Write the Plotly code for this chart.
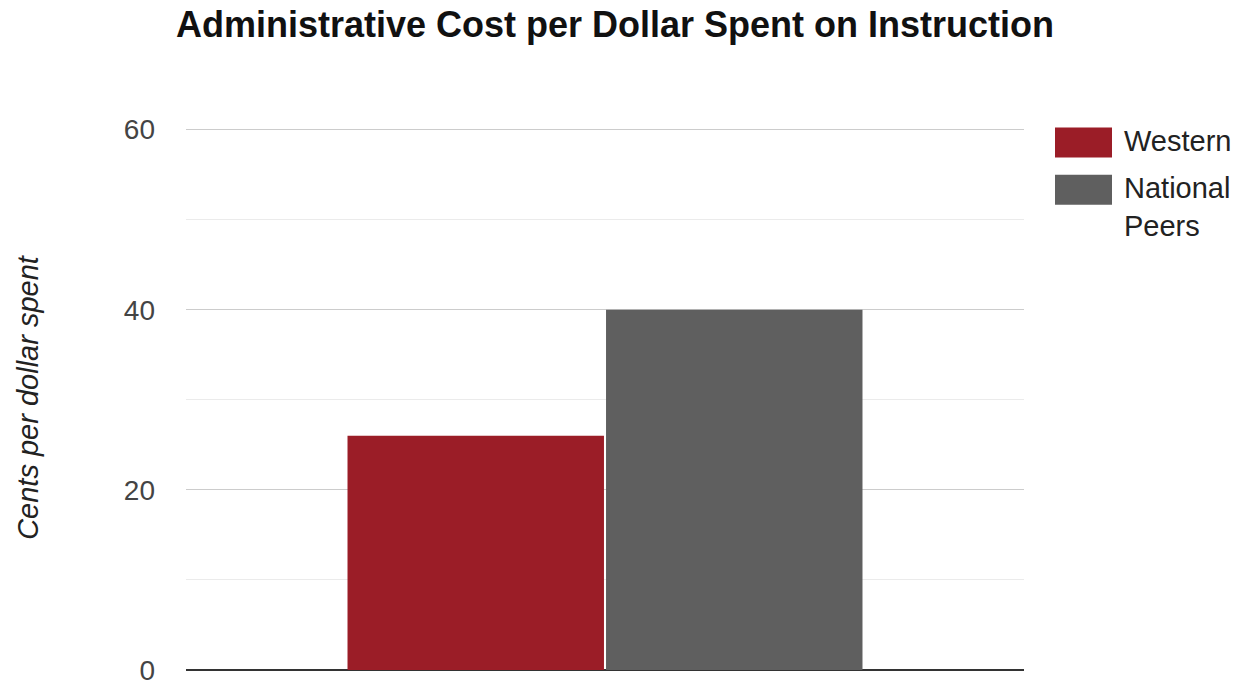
import plotly.graph_objects as go

categories = ["Instruction"]
series_names = ["Western", "National<br>Peers"]
western = [26]
national_peers = [40]
colors = ["#9B1D27", "#5F5F5F"]
y_ticks = [0, 20, 40, 60]
minor_ticks = [10, 30, 50]

Y_MAX = 60.4
TOP = 670 - Y_MAX * 9.0

fig = go.Figure()
for name, vals, col in zip(series_names, [western, national_peers], colors):
    fig.add_trace(go.Bar(x=categories, y=vals, name=name.replace("<br>", " "),
                         marker=dict(color=col, line=dict(width=0)),
                         showlegend=False))

fig.update_layout(
    width=1238, height=688,
    margin=dict(l=186, r=214, t=TOP, b=18),
    paper_bgcolor="white", plot_bgcolor="white",
    barmode="group", bargap=0.383, bargroupgap=0.008,
    font=dict(family="Liberation Sans, Arial, sans-serif", color="#444444"),
    title=dict(text="<b>Administrative Cost per Dollar Spent on Instruction</b>",
               x=615/1238, xanchor="center", y=1-24/688, yanchor="middle",
               font=dict(size=36, color="#111111")),
    xaxis=dict(showticklabels=False, showgrid=False, zeroline=False,
               range=[-0.5, 0.5], fixedrange=True, automargin=False),
    yaxis=dict(range=[0, Y_MAX], tickvals=y_ticks, ticktext=[str(v) for v in y_ticks],
               tickfont=dict(size=28, color="#444444"), ticks="", ticklabelstandoff=30,
               showgrid=True, gridcolor="#cccccc", gridwidth=1,
               minor=dict(tickvals=minor_ticks, showgrid=True, gridcolor="#ebebeb", gridwidth=1),
               zeroline=True, zerolinecolor="#333333", zerolinewidth=2,
               automargin=False,
               title=dict(text="<i>Cents per dollar spent</i>", font=dict(size=29, color="#222222"),
                          standoff=76)),
)

# custom legend with large swatches
plot_h = 688 - TOP - 18
leg_y = [143, 190]
for name, col, yy in zip(series_names, colors, leg_y):
    fig.add_shape(type="rect", xref="paper", yref="paper",
                  x0=(1055-186)/838, x1=(1112-186)/838,
                  y0=(670-(yy+15))/plot_h, y1=(670-(yy-15))/plot_h,
                  fillcolor=col, line=dict(width=0))
    fig.add_annotation(xref="paper", yref="paper", x=(1122-186)/838,
                       y=(670-(yy-20))/plot_h, xanchor="left", yanchor="top",
                       text=name, showarrow=False, align="left",
                       font=dict(size=29, color="#222222"))

fig.write_html("out.html")
